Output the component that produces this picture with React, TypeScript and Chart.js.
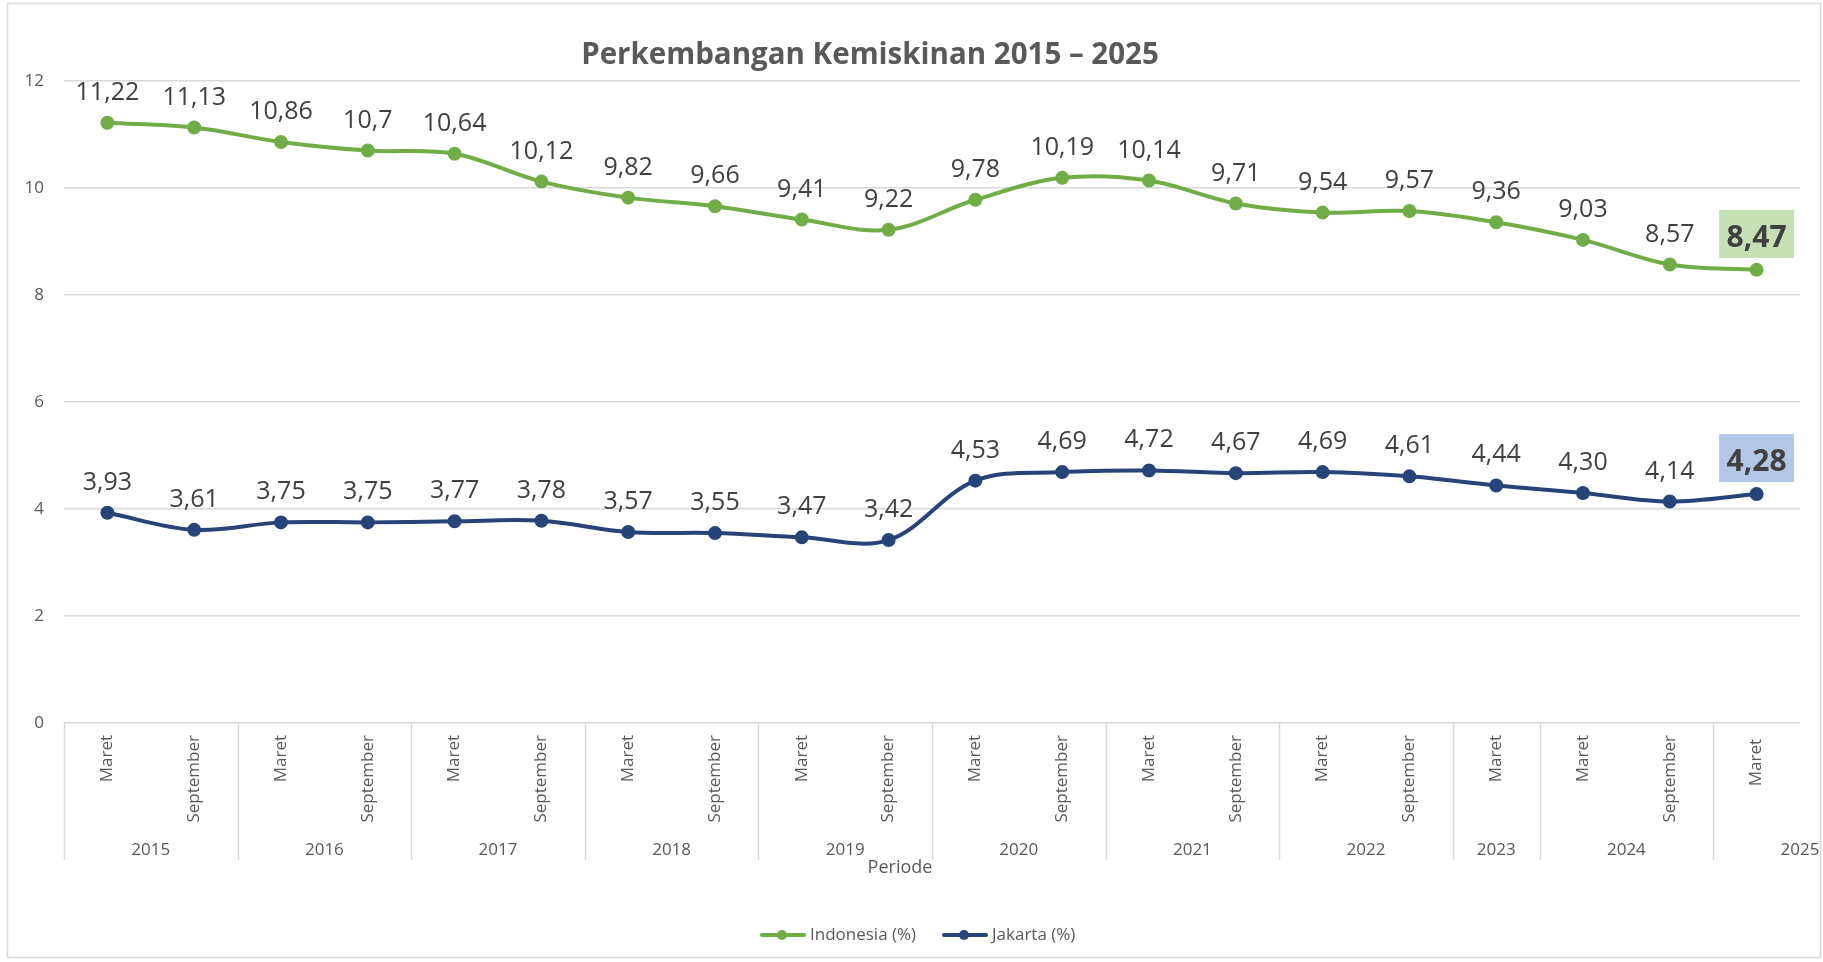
import React, { useEffect, useRef } from "react";
import { Chart, registerables } from "chart.js";

Chart.register(...registerables);

const months = [
  "Maret", "September", "Maret", "September", "Maret", "September", "Maret", "September",
  "Maret", "September", "Maret", "September", "Maret", "September", "Maret", "September",
  "Maret", "Maret", "September", "Maret",
];
const years = [
  "2015", "2015", "2016", "2016", "2017", "2017", "2018", "2018", "2019", "2019",
  "2020", "2020", "2021", "2021", "2022", "2022", "2023", "2024", "2024", "2025",
];
const indonesia = [11.22, 11.13, 10.86, 10.7, 10.64, 10.12, 9.82, 9.66, 9.41, 9.22, 9.78, 10.19, 10.14, 9.71, 9.54, 9.57, 9.36, 9.03, 8.57, 8.47];
const jakarta = [3.93, 3.61, 3.75, 3.75, 3.77, 3.78, 3.57, 3.55, 3.47, 3.42, 4.53, 4.69, 4.72, 4.67, 4.69, 4.61, 4.44, 4.3, 4.14, 4.28];
const yTicks = [0, 2, 4, 6, 8, 10, 12];

const TITLE = "Perkembangan Kemiskinan 2015 \u2013 2025";
const X_TITLE = "Periode";
const SERIES_NAMES = ["Indonesia (%)", "Jakarta (%)"];
const GREEN = "#70ad47";
const BLUE = "#264478";
const BOX_COLORS = ["#c5e0b4", "#b4c7e7"];
const FONT = "'Open Sans', 'Noto Sans', sans-serif";

const fmtIndo = (v: number) => String(v).replace(".", ",");
const fmtJkt = (v: number) => v.toFixed(2).replace(".", ",");

const decorPlugin = {
  id: "decor",
  beforeDraw(chart: any) {
    const ctx = chart.ctx;
    ctx.save();
    ctx.fillStyle = "#ffffff";
    ctx.fillRect(0, 0, chart.width, chart.height);
    ctx.strokeStyle = "#d9d9d9";
    ctx.lineWidth = 1.5;
    ctx.strokeRect(7.5, 3.5, 1813, 954);
    ctx.restore();
  },
  afterDraw(chart: any) {
    const ctx = chart.ctx;
    const x = chart.scales.x;
    const area = chart.chartArea;
    ctx.save();
    // title
    ctx.fillStyle = "#595959";
    ctx.font = `bold 29.5px ${FONT}`;
    ctx.textAlign = "center";
    ctx.textBaseline = "alphabetic";
    ctx.fillText(TITLE, 870, 64);

    // month labels
    ctx.font = `17px ${FONT}`;
    ctx.fillStyle = "#595959";
    months.forEach((m, i) => {
      const px = x.getPixelForValue(i);
      const top = area.bottom + 12 + (i === months.length - 1 ? 4 : 0);
      ctx.save();
      ctx.translate(px, top);
      ctx.rotate(-Math.PI / 2);
      ctx.textAlign = "right";
      ctx.textBaseline = "middle";
      ctx.fillText(m, 0, 0);
      ctx.restore();
    });

    // year groups
    const half = (x.getPixelForValue(1) - x.getPixelForValue(0)) / 2;
    const groups: { label: string; start: number; end: number }[] = [];
    years.forEach((y, i) => {
      const g = groups[groups.length - 1];
      if (g && g.label === y) g.end = i;
      else groups.push({ label: y, start: i, end: i });
    });
    ctx.strokeStyle = "#d9d9d9";
    ctx.lineWidth = 1.5;
    ctx.font = `17px ${FONT}`;
    ctx.textAlign = "center";
    ctx.textBaseline = "alphabetic";
    groups.forEach((g, gi) => {
      const left = x.getPixelForValue(g.start) - half;
      const right = x.getPixelForValue(g.end) + half;
      ctx.beginPath();
      ctx.moveTo(Math.round(left) + 0.5, area.bottom);
      ctx.lineTo(Math.round(left) + 0.5, 860);
      ctx.stroke();
      const cx = gi === groups.length - 1 ? right : (left + right) / 2;
      ctx.fillText(g.label, cx, 855);
    });

    // axis title
    ctx.font = `18px ${FONT}`;
    ctx.fillText(X_TITLE, 900, 873);

    // legend
    const legendItems = [
      { name: SERIES_NAMES[0], color: GREEN, x0: 760 },
      { name: SERIES_NAMES[1], color: BLUE, x0: 942 },
    ];
    ctx.font = `17px ${FONT}`;
    ctx.textAlign = "left";
    ctx.textBaseline = "middle";
    legendItems.forEach((it) => {
      const ly = 935;
      ctx.strokeStyle = it.color;
      ctx.lineWidth = 4;
      ctx.lineCap = "round";
      ctx.beginPath();
      ctx.moveTo(it.x0 + 2, ly);
      ctx.lineTo(it.x0 + 44, ly);
      ctx.stroke();
      ctx.fillStyle = it.color;
      ctx.beginPath();
      ctx.arc(it.x0 + 22, ly, 5, 0, Math.PI * 2);
      ctx.fill();
      ctx.fillStyle = "#595959";
      ctx.fillText(it.name, it.x0 + 50, ly);
    });
    ctx.restore();
  },
  afterDatasetsDraw(chart: any) {
    const ctx = chart.ctx;
    ctx.save();
    chart.data.datasets.forEach((ds: any, di: number) => {
      const meta = chart.getDatasetMeta(di);
      const fmt = di === 0 ? fmtIndo : fmtJkt;
      meta.data.forEach((pt: any, i: number) => {
        const text = fmt(ds.data[i]);
        const last = i === meta.data.length - 1;
        ctx.textAlign = "center";
        ctx.textBaseline = "alphabetic";
        if (last) {
          ctx.fillStyle = BOX_COLORS[di];
          ctx.fillRect(pt.x - 37.5, pt.y - 60, 75, 48);
          ctx.font = `bold 30px ${FONT}`;
          ctx.fillStyle = "#404040";
          ctx.fillText(text, pt.x, pt.y - 23);
        } else {
          ctx.font = `25px ${FONT}`;
          ctx.fillStyle = "#404040";
          ctx.fillText(text, pt.x, pt.y - 23);
        }
      });
    });
    ctx.restore();
  },
};

export default function App() {
  const ref = useRef<HTMLCanvasElement | null>(null);
  useEffect(() => {
    if (!ref.current) return;
    const chart = new Chart(ref.current, {
      type: "line",
      data: {
        labels: months.map((m, i) => `${m} ${years[i]}`),
        datasets: [
          {
            label: SERIES_NAMES[0],
            data: indonesia,
            borderColor: GREEN,
            backgroundColor: GREEN,
            borderWidth: 4,
            pointRadius: 5,
            pointHoverRadius: 5,
            pointBackgroundColor: GREEN,
            pointBorderColor: GREEN,
            tension: 0.35,
          },
          {
            label: SERIES_NAMES[1],
            data: jakarta,
            borderColor: BLUE,
            backgroundColor: BLUE,
            borderWidth: 4,
            pointRadius: 5,
            pointHoverRadius: 5,
            pointBackgroundColor: BLUE,
            pointBorderColor: BLUE,
            tension: 0.35,
          },
        ],
      },
      options: {
        animation: false,
        responsive: false,
        maintainAspectRatio: false,
        layout: { padding: { top: 81, bottom: 239, left: 0, right: 23 } },
        plugins: { legend: { display: false }, title: { display: false }, tooltip: { enabled: false } },
        scales: {
          x: { type: "category", display: false, offset: true },
          y: {
            min: 0,
            max: 12,
            afterBuildTicks: (s: any) => {
              s.ticks = yTicks.map((v) => ({ value: v }));
            },
            afterFit: (s: any) => {
              s.width = 64;
            },
            border: { display: false },
            grid: { color: "#d9d9d9", lineWidth: 1.5, drawTicks: false },
            ticks: { padding: 20, color: "#595959", font: { family: "'Open Sans', sans-serif", size: 17 } },
          },
        },
      },
      plugins: [decorPlugin],
    });
    return () => chart.destroy();
  }, []);
  return (
    <div style={{ position: "fixed", left: 0, top: 0, width: 1823, height: 962, background: "#fff" }}>
      <canvas ref={ref} width={1823} height={962} style={{ width: 1823, height: 962 }} />
    </div>
  );
}
